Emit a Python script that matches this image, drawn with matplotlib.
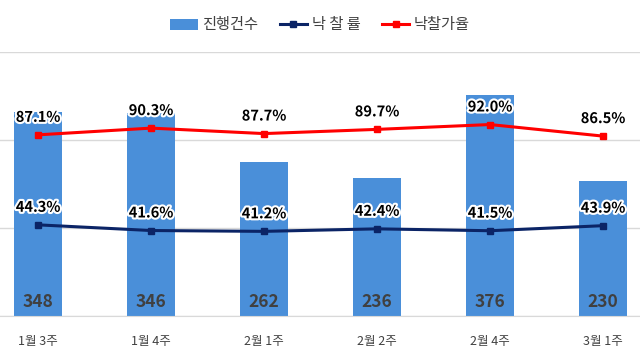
import matplotlib.pyplot as plt
import matplotlib.patheffects as pe
import numpy as np

plt.rcParams["font.family"] = ["Noto Sans CJK KR", "DejaVu Sans"]

weeks = ["1월 3주", "1월 4주", "2월 1주", "2월 2주", "2월 4주", "3월 1주"]
counts = [348, 346, 262, 236, 376, 230]
win_rate = [44.3, 41.6, 41.2, 42.4, 41.5, 43.9]
price_rate = [87.1, 90.3, 87.7, 89.7, 92.0, 86.5]

bar_color = "#4a8fd9"
navy = "#0b2466"
red = "#ff0000"
text_gray = "#404040"
grid_gray = "#d9d9d9"

x = np.arange(len(weeks))

fig = plt.figure(figsize=(6.4, 3.53), dpi=100)
ax = fig.add_axes([0.0, 1 - 316 / 353, 1.0, 264 / 353])
ax2 = ax.twinx()

bars = ax.bar(x, counts, width=0.42, color=bar_color, zorder=2, label="진행건수")
ax.set_ylim(0, 450)
ax.set_yticks([0, 150, 300, 450])
ax.grid(axis="y", color=grid_gray, linewidth=1, zorder=0)
ax.set_xlim(-0.5 + 18.5 / 113, 5.5 - 19.5 / 113)
ax.set_xticks(x)
ax.set_xticklabels(weeks, fontsize=9, color=text_gray)
ax.tick_params(axis="x", length=0, pad=14)
ax.tick_params(axis="y", length=0, labelleft=False)
for side in ["top", "left", "right"]:
    ax.spines[side].set_visible(False)
ax.spines["bottom"].set_color(grid_gray)

for xi, c in zip(x, counts):
    ax.text(xi, 24, str(c), ha="center", va="center", fontsize=12.5,
            fontweight="bold", color=text_gray, zorder=3)

l1, = ax2.plot(x, win_rate, color=navy, linewidth=2.2, marker="s",
               markersize=4.5, label="낙 찰 률", zorder=4)
l2, = ax2.plot(x, price_rate, color=red, linewidth=2.2, marker="s",
               markersize=4.5, label="낙찰가율", zorder=4)
ax2.set_ylim(0.95, 126.5)
ax2.set_yticks([])
for side in ["top", "left", "right", "bottom"]:
    ax2.spines[side].set_visible(False)

glow = [pe.withStroke(linewidth=3, foreground="white")]
for series in (win_rate, price_rate):
    for xi, v in zip(x, series):
        ax2.annotate(f"{v:.1f}%", (xi, v), xytext=(0, 13), textcoords="offset points",
                     ha="center", va="center", fontsize=10.5, fontweight="bold",
                     color="black", path_effects=glow, zorder=5)

fig.legend(handles=[bars, l1, l2], loc="center", bbox_to_anchor=(0.5, 1 - 25 / 353),
           ncol=3, frameon=False, fontsize=11, labelcolor=text_gray,
           handlelength=1.8, handletextpad=0.3, columnspacing=1.4)

fig.savefig("out.png", dpi=100)
